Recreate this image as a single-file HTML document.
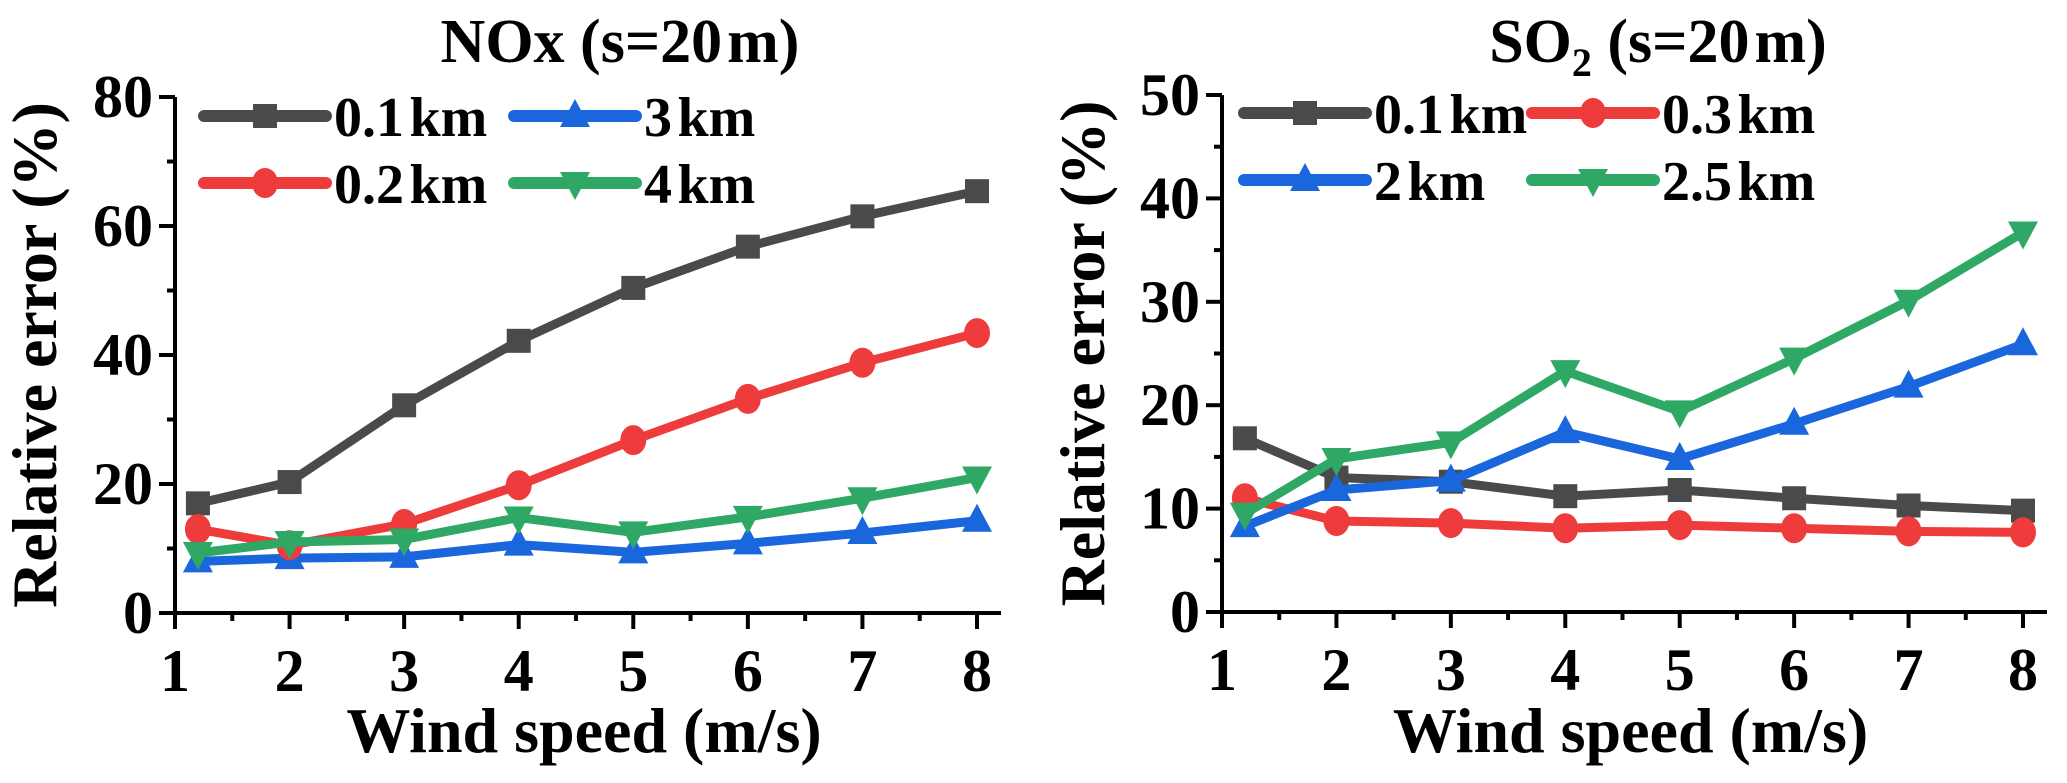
<!DOCTYPE html>
<html><head><meta charset="utf-8"><style>
html,body{margin:0;padding:0;background:#fff;}
svg{display:block;}
svg text{font-family:"Liberation Serif","Times New Roman",Times,serif;font-weight:bold;}
</style></head><body>
<svg id="chart" width="2067" height="783" viewBox="0 0 2067 783" xmlns="http://www.w3.org/2000/svg" font-family="Liberation Serif, Times New Roman, serif" font-weight="bold"></svg>
<script>
const xValues = [1.2, 2, 3, 4, 5, 6, 7, 8];
const noxTicksY = [0, 20, 40, 60, 80];
const so2TicksY = [0, 10, 20, 30, 40, 50];
const xTicks = [1, 2, 3, 4, 5, 6, 7, 8];
const nox01 = [17, 20.3, 32.2, 42.2, 50.4, 56.8, 61.5, 65.4];
const nox02 = [13, 10.5, 13.8, 19.8, 26.8, 33.2, 38.8, 43.4];
const nox3 = [8, 8.5, 8.7, 10.6, 9.4, 10.8, 12.4, 14.3];
const nox4 = [9.3, 11, 11.4, 14.8, 12.5, 14.9, 17.8, 21];
const so201 = [16.8, 13, 12.6, 11.2, 11.8, 11, 10.3, 9.8];
const so203 = [11, 8.8, 8.6, 8.1, 8.4, 8.1, 7.8, 7.7];
const so22 = [8.3, 11.8, 12.7, 17.4, 14.8, 18.2, 21.8, 25.9];
const so225 = [9.5, 14.8, 16.4, 23.3, 19.4, 24.5, 30.1, 36.7];

const NS = "http://www.w3.org/2000/svg";
const svg = document.getElementById('chart');
const FF = '"Liberation Serif", "Times New Roman", serif';
function mk(tag, attrs, parent) {
  const e = document.createElementNS(NS, tag);
  for (const k in attrs) e.setAttribute(k, attrs[k]);
  if (tag === 'text') { e.setAttribute('font-family', FF); e.setAttribute('font-weight', 'bold'); }
  (parent || svg).appendChild(e);
  return e;
}
const COL = {gray:'#4a4a4a', red:'#ee3b3b', blue:'#1a66dd', green:'#2fa866'};

function marker(g, type, cx, cy, color) {
  let m;
  if (type === 'square') m = mk('rect', {x:cx-12, y:cy-12, width:24, height:24, fill:color}, g);
  else if (type === 'circle') m = mk('ellipse', {cx:cx, cy:cy, rx:13, ry:15, fill:color}, g);
  else if (type === 'up') m = mk('polygon', {points:`${cx},${cy-17} ${cx+15},${cy+11} ${cx-15},${cy+11}`, fill:color}, g);
  else m = mk('polygon', {points:`${cx},${cy+17} ${cx+15},${cy-11} ${cx-15},${cy-11}`, fill:color}, g);
  
  
}

function panel(cfg) {
  const g = mk('g', {});
  
  
  const X = v => cfg.x0 + (v - 1) / 7 * (cfg.x1 - cfg.x0);
  const Y = v => cfg.y0 - v / cfg.ymax * (cfg.y0 - cfg.ytop);
  const ax = mk('path', {d:`M${cfg.ax},${cfg.ytop} V${cfg.y0} H${cfg.axEnd}`, stroke:'#000', 'stroke-width':4, fill:'none'}, g);
  
  
  cfg.yTicks.forEach((t, i) => {
    const y = Y(t);
    mk('line', {x1:cfg.ax-16, x2:cfg.ax, y1:y, y2:y, stroke:'#000', 'stroke-width':4}, g);
    const lbl = mk('text', {x:cfg.ax-22, y:y+20, 'text-anchor':'end', 'font-size':60}, g);
    lbl.textContent = t;
    
    
    if (i < cfg.yTicks.length - 1) {
      const ym = Y((t + cfg.yTicks[i+1]) / 2);
      mk('line', {x1:cfg.ax-8, x2:cfg.ax, y1:ym, y2:ym, stroke:'#000', 'stroke-width':4}, g);
    }
  });
  xTicks.forEach((t, i) => {
    const x = X(t);
    mk('line', {x1:x, x2:x, y1:cfg.y0, y2:cfg.y0+16, stroke:'#000', 'stroke-width':4}, g);
    const lbl = mk('text', {x:x, y:cfg.y0+78, 'text-anchor':'middle', 'font-size':60}, g);
    lbl.textContent = t;
    
    
    if (i < xTicks.length - 1) {
      const xm = X(t + 0.5);
      mk('line', {x1:xm, x2:xm, y1:cfg.y0, y2:cfg.y0+8, stroke:'#000', 'stroke-width':4}, g);
    }
  });
  cfg.series.forEach(s => {
    const sg = mk('g', {}, g);
    
    
    const pts = s.data.map((v, i) => `${X(xValues[i])},${Y(v)}`).join(' ');
    mk('polyline', {points:pts, fill:'none', stroke:s.color, 'stroke-width':9, 'stroke-linejoin':'round'}, sg);
    s.data.forEach((v, i) => marker(sg, s.m, X(xValues[i]), Y(v), s.color));
  });
  cfg.series.forEach((s, i) => {
    const lx = cfg.legX[i % 2], ly = cfg.legY[Math.floor(i / 2)];
    const lg = mk('g', {}, g);
    
    
    mk('line', {x1:lx, x2:lx+122, y1:ly, y2:ly, stroke:s.color, 'stroke-width':12, 'stroke-linecap':'round'}, lg);
    marker(lg, s.m, lx+61, ly, s.color);
    const t = mk('text', {x:lx+130, y:ly+20, 'font-size':56}, lg);
    t.innerHTML = s.label.replace(' ', '<tspan font-size="22"> </tspan>');
  });
  const tt = mk('text', {x:cfg.titleX, y:62, 'text-anchor':'middle', 'font-size':62}, g);
  
  
  tt.innerHTML = cfg.title;
  const xt = mk('text', {x:(cfg.x0+cfg.x1)/2 + 8, y:752, 'text-anchor':'middle', 'font-size':64}, g);
  
  
  xt.textContent = 'Wind speed (m/s)';
  const yt = mk('text', {x:0, y:0, 'text-anchor':'middle', 'font-size':64, transform:`translate(${cfg.ytX},${(cfg.ytop+cfg.y0)/2}) rotate(-90)`}, g);
  
  
  yt.textContent = 'Relative error (%)';
}

panel({name:'nox-chart', x0:175, x1:977, ax:175, axEnd:1001, y0:613, ytop:97, ymax:80,
  yTicks:noxTicksY, ytX:56, titleX:620, legX:[204, 514], legY:[116, 183],
  title:'NOx (s=20<tspan font-size="20"> </tspan>m)',
  series:[
    {label:'0.1 km', data:nox01, color:COL.gray, m:'square'},
    {label:'3 km', data:nox3, color:COL.blue, m:'up'},
    {label:'0.2 km', data:nox02, color:COL.red, m:'circle'},
    {label:'4 km', data:nox4, color:COL.green, m:'down'}
  ]});
panel({name:'so2-chart', x0:1222, x1:2023, ax:1222, axEnd:2047, y0:612, ytop:95, ymax:50,
  yTicks:so2TicksY, ytX:1104, titleX:1658, legX:[1244, 1532], legY:[113, 180],
  title:'SO<tspan font-size="40" dy="14">2</tspan><tspan dy="-14"> (s=20</tspan><tspan font-size="20"> </tspan>m)',
  series:[
    {label:'0.1 km', data:so201, color:COL.gray, m:'square'},
    {label:'0.3 km', data:so203, color:COL.red, m:'circle'},
    {label:'2 km', data:so22, color:COL.blue, m:'up'},
    {label:'2.5 km', data:so225, color:COL.green, m:'down'}
  ]});
</script>
</body></html>
